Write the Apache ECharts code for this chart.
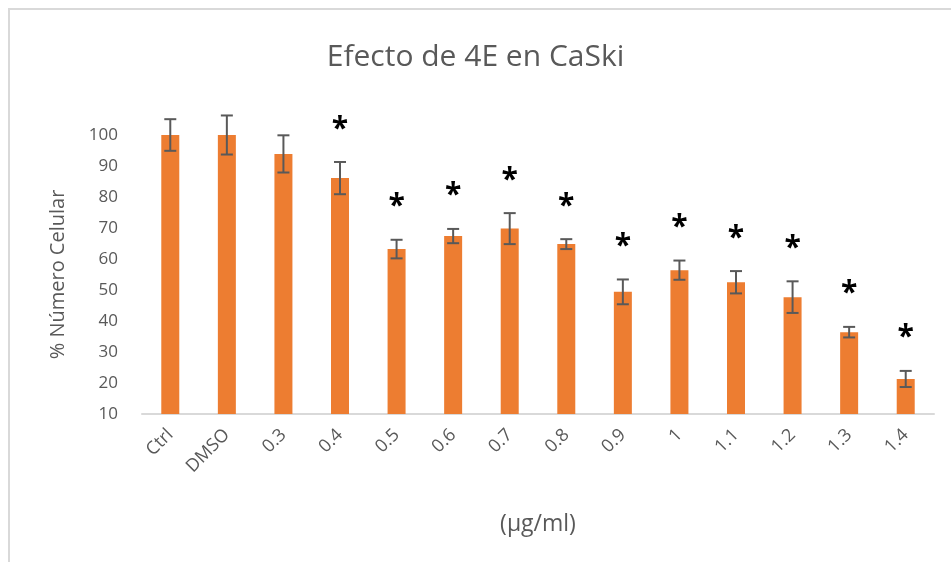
<!DOCTYPE html>
<html>
<head>
<meta charset="utf-8">
<script src="https://cdn.jsdelivr.net/npm/echarts@6/dist/echarts.min.js"></script>
<style>
  html,body{margin:0;padding:0;background:#fff;}
  #chart{width:951px;height:562px;}
</style>
</head>
<body>
<div id="chart"></div>
<script>
  // concentraciones (µg/ml)
  var categories = ['Ctrl','DMSO','0.3','0.4','0.5','0.6','0.7','0.8','0.9','1','1.1','1.2','1.3','1.4'];
  // % numero celular
  var values = [100,100,93.9,86.1,63.2,67.4,69.8,64.8,49.4,56.4,52.5,47.7,36.4,21.3];
  var errors = [5.1,6.3,6,5.2,3,2.3,5,1.6,4,3.1,3.6,5.1,1.7,2.6];
  // diferencia significativa
  var signif = [0,0,0,1,1,1,1,1,1,1,1,1,1,1];
  var yTicks = [10,20,30,40,50,60,70,80,90,100];

  var txt = '#595959';
  var font = '"Open Sans", sans-serif';

  var errData = values.map(function(v,i){ return [i, v, errors[i], signif[i]]; });

  var myChart = echarts.init(document.getElementById('chart'));
  var option = {
    animation:false,
    title:{
      text:'Efecto de 4E en CaSki',
      left:'center',
      top:37,
      textStyle:{color:txt,fontSize:30,fontWeight:'normal',fontFamily:font}
    },
    graphic:[{
      type:'rect',
      shape:{x:9,y:9,width:1200,height:1200},
      style:{fill:'none',stroke:'#d9d9d9',lineWidth:2},
      silent:true
    }],
    grid:{left:142,right:17,top:135,bottom:148},
    xAxis:{
      type:'category',
      data:categories,
      name:'(µg/ml)',
      nameLocation:'middle',
      nameGap:99,
      nameTextStyle:{color:txt,fontSize:23,fontFamily:font},
      axisLine:{lineStyle:{color:'#d9d9d9',width:2}},
      axisTick:{show:false},
      axisLabel:{color:txt,fontSize:18,fontFamily:font,rotate:45,margin:18,interval:0}
    },
    yAxis:{
      type:'value',
      min:yTicks[0],
      max:yTicks[yTicks.length-1],
      interval:10,
      name:'% Número Celular',
      nameLocation:'middle',
      nameGap:74,
      nameTextStyle:{color:txt,fontSize:20,fontFamily:font},
      axisLine:{show:false},
      axisTick:{show:false},
      splitLine:{show:false},
      axisLabel:{color:txt,fontSize:17,fontFamily:font,margin:24}
    },
    series:[
      {
        type:'bar',
        data:values,
        barWidth:18,
        itemStyle:{color:'#ED7D31'}
      },
      {
        type:'custom',
        clip:false,
        data:errData,
        z:10,
        renderItem:function(params,api){
          var i = api.value(0), m = api.value(1), e = api.value(2);
          var hi = api.coord([i, m+e]);
          var lo = api.coord([i, m-e]);
          var cap = 6;
          var st = {stroke:'#595959',lineWidth:2};
          var children = [
            {type:'line',shape:{x1:hi[0],y1:hi[1],x2:lo[0],y2:lo[1]},style:st},
            {type:'line',shape:{x1:hi[0]-cap,y1:hi[1],x2:hi[0]+cap,y2:hi[1]},style:st},
            {type:'line',shape:{x1:lo[0]-cap,y1:lo[1],x2:lo[0]+cap,y2:lo[1]},style:st}
          ];
          if(api.value(3)){
            children.push({
              type:'text',
              style:{text:'*',x:hi[0],y:hi[1]-33,align:'center',verticalAlign:'middle',
                fill:'#000',fontSize:30,fontWeight:'bold',fontFamily:font}
            });
          }
          return {type:'group',children:children};
        }
      }
    ]
  };
  myChart.setOption(option);
</script>
</body>
</html>
